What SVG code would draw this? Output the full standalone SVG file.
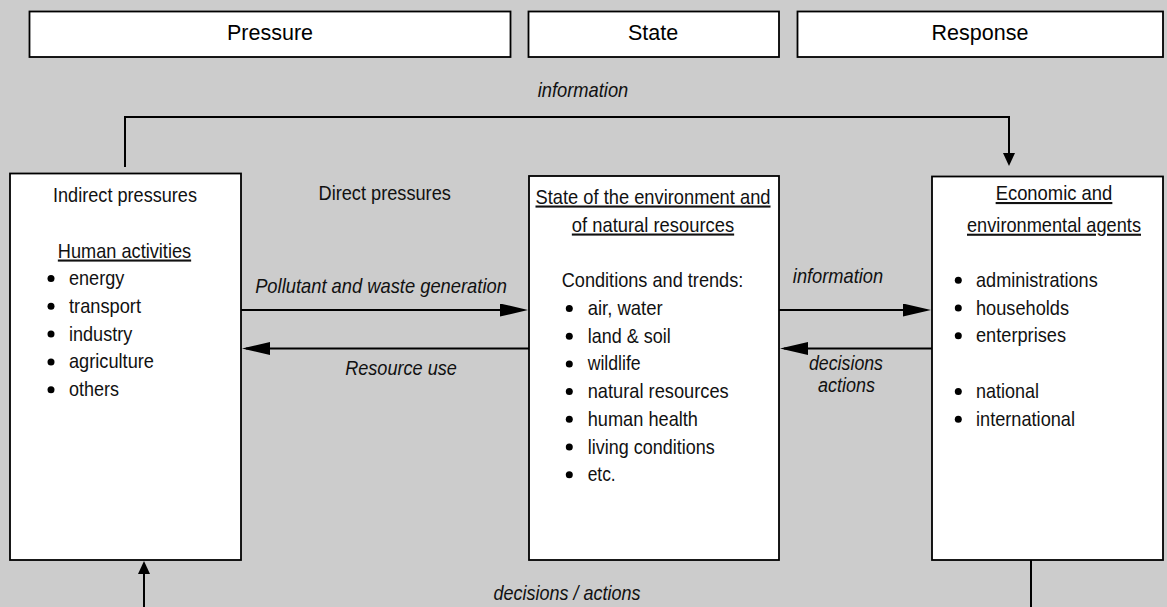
<svg xmlns="http://www.w3.org/2000/svg" width="1167" height="607" viewBox="0 0 1167 607">
<style>
.bg{fill:#cccccc}
.box{fill:#ffffff;stroke:#000000;stroke-width:1.8}
.hdr{font-family:"Liberation Sans",Arial,sans-serif;font-size:21.5px;fill:#000;text-anchor:middle}
.t{font-family:"Liberation Sans Narrow","Arial Narrow","Liberation Sans",sans-serif;font-size:21px;fill:#111}
.c{text-anchor:middle}
.u{text-decoration:underline}
.i{font-style:italic}
.s{font-size:20.5px}
.ln{fill:none;stroke:#000;stroke-width:2}
.dot{fill:#000}
</style>
<defs>
<marker id="big" markerUnits="userSpaceOnUse" viewBox="0 0 28 13" refX="24" refY="6.5" markerWidth="28" markerHeight="13" orient="auto">
<path d="M0,0 L28,6.5 L0,13 Z" fill="#000"/>
</marker>
<marker id="small" markerUnits="userSpaceOnUse" viewBox="0 0 13 12" refX="10" refY="6" markerWidth="13" markerHeight="12" orient="auto">
<path d="M0,0 L13,6 L0,12 Z" fill="#000"/>
</marker>
</defs>
<rect class="bg" x="0" y="0" width="1167" height="607"/>

<g id="hdr-pressure">
<rect class="box" x="29.5" y="11.5" width="481" height="45.5"/>
<text class="hdr" x="270" y="40">Pressure</text>
</g>
<g id="hdr-state">
<rect class="box" x="528.5" y="11.5" width="250.5" height="45.5"/>
<text class="hdr" x="653" y="40">State</text>
</g>
<g id="hdr-response">
<rect class="box" x="797.5" y="11.5" width="365.5" height="45.5"/>
<text class="hdr" x="980" y="40">Response</text>
</g>

<g id="connectors">
<polyline class="ln" points="125,167 125,117 1009,117 1009,163" marker-end="url(#small)"/>
<text class="t i c" x="583" y="97" textLength="90.6" lengthAdjust="spacingAndGlyphs">information</text>
<line class="ln" x1="241" y1="310" x2="524" y2="310" marker-end="url(#big)"/>
<text class="t i c" x="381" y="293" textLength="251.7" lengthAdjust="spacingAndGlyphs">Pollutant and waste generation</text>
<line class="ln" x1="529" y1="348.5" x2="246" y2="348.5" marker-end="url(#big)"/>
<text class="t i c" x="401" y="375" textLength="111.7" lengthAdjust="spacingAndGlyphs">Resource use</text>
<line class="ln" x1="779" y1="310" x2="927" y2="310" marker-end="url(#big)"/>
<text class="t i c" x="838" y="283" textLength="90.3" lengthAdjust="spacingAndGlyphs">information</text>
<line class="ln" x1="932" y1="348.5" x2="784" y2="348.5" marker-end="url(#big)"/>
<text class="t i c s" x="846" y="369.5" textLength="74" lengthAdjust="spacingAndGlyphs">decisions</text>
<text class="t i c s" x="846.5" y="392" textLength="57" lengthAdjust="spacingAndGlyphs">actions</text>
<line class="ln" x1="144" y1="607" x2="144" y2="564" marker-end="url(#small)"/>
<line class="ln" x1="1031" y1="560" x2="1031" y2="607"/>
<text class="t i c" x="567" y="600" textLength="147" lengthAdjust="spacingAndGlyphs">decisions / actions</text>
<text class="t" x="318.5" y="200" textLength="132.4" lengthAdjust="spacingAndGlyphs">Direct pressures</text>
</g>

<g id="node-indirect">
<rect class="box" x="10" y="173.5" width="231" height="386.5"/>
<text class="t c" x="125" y="202" textLength="144" lengthAdjust="spacingAndGlyphs">Indirect pressures</text>
<text class="t c u" x="124.5" y="257.5" textLength="133.3" lengthAdjust="spacingAndGlyphs">Human activities</text>
<circle class="dot" cx="51" cy="278.5" r="3.5"/><text class="t" x="69" y="285" textLength="55.3" lengthAdjust="spacingAndGlyphs">energy</text>
<circle class="dot" cx="51" cy="306.3" r="3.5"/><text class="t" x="69" y="312.8" textLength="72" lengthAdjust="spacingAndGlyphs">transport</text>
<circle class="dot" cx="51" cy="334.1" r="3.5"/><text class="t" x="69" y="340.6" textLength="63.3" lengthAdjust="spacingAndGlyphs">industry</text>
<circle class="dot" cx="51" cy="361.9" r="3.5"/><text class="t" x="69" y="368.4" textLength="85" lengthAdjust="spacingAndGlyphs">agriculture</text>
<circle class="dot" cx="51" cy="389.7" r="3.5"/><text class="t" x="69" y="396.2" textLength="50" lengthAdjust="spacingAndGlyphs">others</text>
</g>

<g id="node-state">
<rect class="box" x="529" y="176" width="250" height="384"/>
<text class="t c u" x="653" y="203.5" textLength="235" lengthAdjust="spacingAndGlyphs">State of the environment and</text>
<text class="t c u" x="653" y="231.5" textLength="162.3" lengthAdjust="spacingAndGlyphs">of natural resources</text>
<text class="t c" x="652.5" y="286.7" textLength="181.6" lengthAdjust="spacingAndGlyphs">Conditions and trends:</text>
<circle class="dot" cx="569.3" cy="308.5" r="3.5"/><text class="t" x="587.7" y="315" textLength="75" lengthAdjust="spacingAndGlyphs">air, water</text>
<circle class="dot" cx="569.3" cy="336.2" r="3.5"/><text class="t" x="587.7" y="342.7" textLength="83" lengthAdjust="spacingAndGlyphs">land &amp; soil</text>
<circle class="dot" cx="569.3" cy="363.9" r="3.5"/><text class="t" x="587.7" y="370.4" textLength="53" lengthAdjust="spacingAndGlyphs">wildlife</text>
<circle class="dot" cx="569.3" cy="391.6" r="3.5"/><text class="t" x="587.7" y="398.1" textLength="141" lengthAdjust="spacingAndGlyphs">natural resources</text>
<circle class="dot" cx="569.3" cy="419.3" r="3.5"/><text class="t" x="587.7" y="425.8" textLength="110.3" lengthAdjust="spacingAndGlyphs">human health</text>
<circle class="dot" cx="569.3" cy="447" r="3.5"/><text class="t" x="587.7" y="453.5" textLength="127" lengthAdjust="spacingAndGlyphs">living conditions</text>
<circle class="dot" cx="569.3" cy="474.7" r="3.5"/><text class="t" x="587.7" y="481.2" textLength="28" lengthAdjust="spacingAndGlyphs">etc.</text>
</g>

<g id="node-agents">
<rect class="box" x="932" y="176.5" width="231" height="383.5"/>
<text class="t c u" x="1054" y="200" textLength="116.7" lengthAdjust="spacingAndGlyphs">Economic and</text>
<text class="t c u" x="1054" y="231.7" textLength="174" lengthAdjust="spacingAndGlyphs">environmental agents</text>
<circle class="dot" cx="958.3" cy="280.2" r="3.5"/><text class="t" x="976" y="286.7" textLength="121.7" lengthAdjust="spacingAndGlyphs">administrations</text>
<circle class="dot" cx="958.3" cy="308" r="3.5"/><text class="t" x="976" y="314.5" textLength="93" lengthAdjust="spacingAndGlyphs">households</text>
<circle class="dot" cx="958.3" cy="335.8" r="3.5"/><text class="t" x="976" y="342.3" textLength="90" lengthAdjust="spacingAndGlyphs">enterprises</text>
<circle class="dot" cx="958.3" cy="391.5" r="3.5"/><text class="t" x="976" y="398" textLength="63" lengthAdjust="spacingAndGlyphs">national</text>
<circle class="dot" cx="958.3" cy="419.3" r="3.5"/><text class="t" x="976" y="425.8" textLength="99" lengthAdjust="spacingAndGlyphs">international</text>
</g>
</svg>
